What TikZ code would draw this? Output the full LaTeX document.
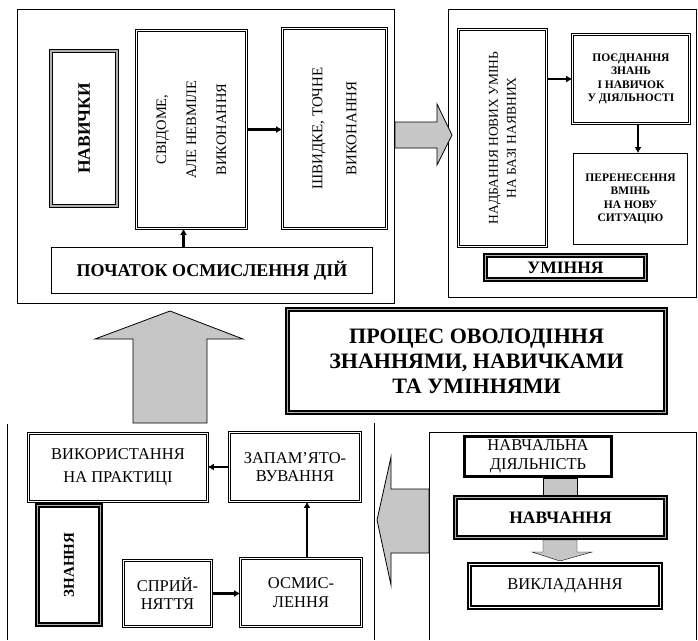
\documentclass[tikz,border=0pt]{standalone}
\usepackage{fontspec}
\setmainfont{Liberation Serif}
\usepackage{tikz}
\usetikzlibrary{arrows.meta}

\tikzset{
  frame/.style={draw, line width=0.7pt},
  plainbox/.style={draw, line width=0.8pt, align=center, inner sep=1pt},
  dblbox/.style={draw, line width=0.7pt, double, double distance=1.3pt, align=center, inner sep=1pt},
  heavybox/.style={draw, line width=1.8pt, double=gray!60, double distance=1.1pt, align=center, inner sep=1pt},
  link/.style={line width=2.2pt, -{Latex[length=6pt,width=7pt]}},
  bigarrow/.style={draw, line width=0.8pt, fill=gray!45},
  txt/.style={font=\fontsize{15}{18}\selectfont},
  bigtxt/.style={font=\fontsize{16.5}{18.5}\selectfont},
  smalltxt/.style={font=\bfseries\fontsize{11.5}{13.5}\selectfont},
  headtxt/.style={font=\bfseries\fontsize{17.5}{20}\selectfont}
}

\begin{document}
\begin{tikzpicture}[x=1pt, y=-1pt]
\useasboundingbox (0,0) rectangle (698,640);

\draw[frame] (17,9) rectangle (394,303);
\draw[frame] (448,9) rectangle (696,297);
\draw[frame] (7,424) -- (7,640);
\draw[frame] (374,423) -- (374,640);
\draw[frame] (429,640) -- (429,432) -- (696,432) -- (696,640);

\node[heavybox, headtxt, rotate=90, minimum width=155pt, minimum height=66pt] (nav) at (84,128.5) {НАВИЧКИ};
\node[dblbox, txt, font=\fontsize{14.5}{18}\selectfont, rotate=90, minimum width=198pt, minimum height=110pt] (svid) at (191.5,129.5) {СВІДОМЕ,\\[12pt] АЛЕ НЕВМІЛЕ\\[12pt] ВИКОНАННЯ};
\node[dblbox, txt, rotate=90, minimum width=200pt, minimum height=104pt] (shv) at (334.5,128.5) {ШВИДКЕ, ТОЧНЕ\\[16pt] ВИКОНАННЯ};
\node[plainbox, headtxt, font=\bfseries\fontsize{18}{20}\selectfont, minimum width=321pt, minimum height=46pt] (poch) at (212,270.5) {ПОЧАТОК ОСМИСЛЕННЯ ДІЙ};

\node[dblbox, txt, font=\fontsize{13.5}{18}\selectfont, rotate=90, minimum width=217pt, minimum height=88pt] (nadb) at (502.5,138) {НАДБАННЯ НОВИХ УМІНЬ\\ НА БАЗІ НАЯВНИХ};
\node[dblbox, smalltxt, minimum width=117pt, minimum height=89pt] (poed) at (631,79) {ПОЄДНАННЯ\\ ЗНАНЬ\\ І НАВИЧОК\\ У ДІЯЛЬНОСТІ};
\node[plainbox, smalltxt, minimum width=114pt, minimum height=91pt] (pere) at (630.5,199) {ПЕРЕНЕСЕННЯ\\ ВМІНЬ\\ НА НОВУ\\ СИТУАЦІЮ};
\node[heavybox, headtxt, minimum width=160pt, minimum height=24pt] (umin) at (565.5,267.5) {УМІННЯ};

\node[heavybox, font=\bfseries\fontsize{22}{25}\selectfont, minimum width=378pt, minimum height=103pt] (proc) at (476.5,361) {ПРОЦЕС ОВОЛОДІННЯ\\ ЗНАННЯМИ, НАВИЧКАМИ\\ ТА УМІННЯМИ};

\node[dblbox, bigtxt, minimum width=179pt, minimum height=68pt] (vyk) at (118,467.5) {ВИКОРИСТАННЯ\\[4pt] НА ПРАКТИЦІ};
\node[dblbox, bigtxt, minimum width=131pt, minimum height=69pt] (zap) at (295,467) {ЗАПАМ'ЯТО-\\ ВУВАННЯ};
\node[heavybox, headtxt, font=\bfseries\fontsize{15}{18}\selectfont, rotate=90, minimum width=119pt, minimum height=63pt] (znan) at (69,565) {ЗНАННЯ};
\node[dblbox, bigtxt, minimum width=88pt, minimum height=66pt] (spry) at (167.5,593.5) {СПРИЙ-\\ НЯТТЯ};
\node[dblbox, bigtxt, minimum width=121pt, minimum height=68pt] (osm) at (301,592.5) {ОСМИС-\\ ЛЕННЯ};

\node[plainbox, bigtxt, line width=2.5pt, minimum width=147pt, minimum height=40pt] (nd) at (538,456.5) {НАВЧАЛЬНА\\ ДІЯЛЬНІСТЬ};
\node[heavybox, headtxt, minimum width=210pt, minimum height=40pt] (navch) at (560.5,517.5) {НАВЧАННЯ};
\node[heavybox, bigtxt, double=white, minimum width=191pt, minimum height=43pt] (vykl) at (565,586) {ВИКЛАДАННЯ};

\draw[link] (svid.south) -- (svid.south -| shv.north);
\draw[link] ([xshift=-8pt]svid.west |- poch.north) -- ([xshift=-8pt]svid.west);
\draw[link] (nadb.south |- poed.west) -- (poed.west);
\draw[link] ([xshift=7pt]poed.south) -- ([xshift=7pt]poed.south |- pere.north);
\draw[link] (zap.west) -- (zap.west -| vyk.east);
\draw[link] (spry.east) -- (spry.east -| osm.west);
\draw[link] ([xshift=6pt]osm.north) -- ([xshift=6pt]osm.north |- zap.south);

\draw[bigarrow] (395,122) -- (437,122) -- (437,104) -- (452,135) -- (437,165) -- (437,148) -- (395,148) -- cycle;
\draw[bigarrow] (133,423) -- (133,339) -- (95,339) -- (170,311) -- (243,339) -- (207,339) -- (207,423) -- cycle;
\draw[bigarrow] (429,489) -- (391,489) -- (391,457) -- (377,520) -- (391,585) -- (391,553) -- (429,553) -- cycle;
\draw[bigarrow, line width=0.4pt] (543,478) rectangle (577,495);
\draw[bigarrow, line width=0.4pt] (543,540) -- (577,540) -- (577,552) -- (592,552) -- (560,561) -- (532,552) -- (543,552) -- cycle;
\end{tikzpicture}
\end{document}
